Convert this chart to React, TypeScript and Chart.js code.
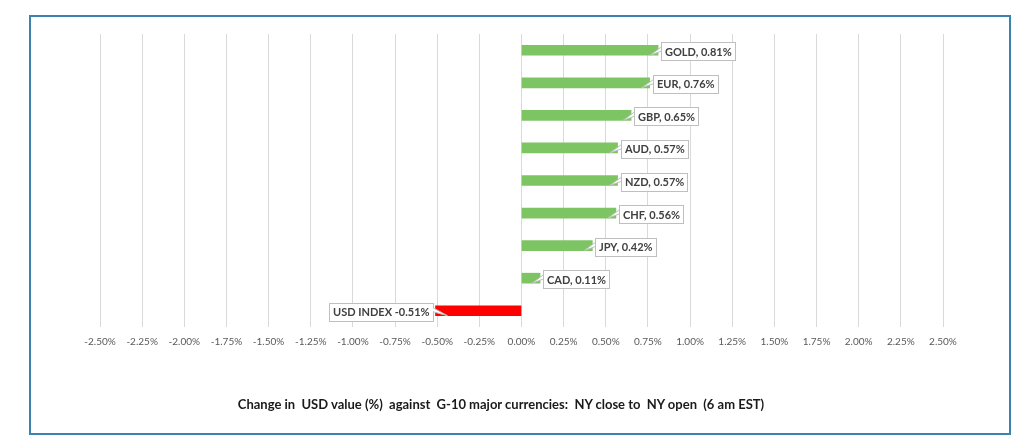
import React, { useEffect, useRef } from "react";
import { Chart, registerables } from "chart.js";

Chart.register(...registerables);

const categories = ["GOLD", "EUR", "GBP", "AUD", "NZD", "CHF", "JPY", "CAD", "USD INDEX"];
const changes = [0.81, 0.76, 0.65, 0.57, 0.57, 0.56, 0.42, 0.11, -0.51];
const barColors = ["#7DC563", "#7DC563", "#7DC563", "#7DC563", "#7DC563", "#7DC563", "#7DC563", "#7DC563", "#FF0000"];
const tickValues = [-2.5, -2.25, -2.0, -1.75, -1.5, -1.25, -1.0, -0.75, -0.5, -0.25, 0, 0.25, 0.5, 0.75, 1.0, 1.25, 1.5, 1.75, 2.0, 2.25, 2.5];
const titleText = "Change in  USD value (%)  against  G-10 major currencies:  NY close to  NY open  (6 am EST)";

const FONT = "Lato, 'Liberation Sans', sans-serif";

function labelText(cat: string, v: number) {
  return cat === "USD INDEX" ? `${cat} ${v.toFixed(2)}%` : `${cat}, ${v.toFixed(2)}%`;
}

const calloutPlugin = {
  id: "callouts",
  afterDatasetsDraw(chart: any) {
    const ctx = chart.ctx;
    const meta = chart.getDatasetMeta(0);
    ctx.save();
    ctx.font = `bold 11px ${FONT}`;
    ctx.textBaseline = "middle";
    meta.data.forEach((bar: any, i: number) => {
      const v = changes[i];
      const txt = labelText(categories[i], v);
      const w = Math.round(ctx.measureText(txt).width + 7);
      const h = 18;
      const cy = bar.y + 1;
      const gap = 3;
      const barEnd = bar.x;
      const barBottom = bar.y + 5;
      let bx: number;
      let tip: [number, number];
      let e1: [number, number];
      let e2: [number, number];
      if (v >= 0) {
        bx = Math.round(barEnd + gap);
        e1 = [bx, cy - 4];
        e2 = [bx, cy];
        tip = [barEnd - 8, barBottom];
      } else {
        bx = Math.round(barEnd - gap - w);
        e1 = [bx + w, cy - 4];
        e2 = [bx + w, cy];
        tip = [barEnd + 12, barBottom];
      }
      const by = Math.round(cy - h / 2);
      ctx.fillStyle = "#FFFFFF";
      ctx.strokeStyle = "#BFBFBF";
      ctx.lineWidth = 1;
      ctx.fillRect(bx + 0.5, by + 0.5, w, h);
      ctx.strokeRect(bx + 0.5, by + 0.5, w, h);
      ctx.beginPath();
      ctx.moveTo(e1[0], e1[1]);
      ctx.lineTo(tip[0], tip[1]);
      ctx.lineTo(e2[0], e2[1]);
      ctx.closePath();
      ctx.fill();
      ctx.beginPath();
      ctx.moveTo(e1[0], e1[1]);
      ctx.lineTo(tip[0], tip[1]);
      ctx.lineTo(e2[0], e2[1]);
      ctx.stroke();
      ctx.fillStyle = "#404040";
      ctx.textAlign = "left";
      ctx.fillText(txt, bx + 4, cy + 1);
    });
    ctx.restore();
  },
};

export default function App() {
  const ref = useRef<HTMLCanvasElement | null>(null);
  useEffect(() => {
    if (!ref.current) return;
    const chart = new Chart(ref.current, {
      type: "bar",
      data: {
        labels: categories,
        datasets: [
          {
            data: changes,
            backgroundColor: barColors,
            borderWidth: 0,
            barThickness: 10,
          },
        ],
      },
      options: {
        indexAxis: "y",
        animation: false,
        responsive: false,
        maintainAspectRatio: false,
        layout: { padding: { left: 100, right: 81, top: 34, bottom: 91 } },
        plugins: {
          legend: { display: false },
          tooltip: { enabled: false },
          title: { display: false },
        },
        scales: {
          x: {
            type: "linear",
            min: -2.5,
            max: 2.5,
            afterBuildTicks(axis: any) {
              axis.ticks = tickValues.map((v) => ({ value: v }));
            },
            grid: { color: "#D9D9D9", drawTicks: false, lineWidth: 1 },
            border: { display: false },
            ticks: {
              padding: 9,
              color: "#595959",
              font: { family: FONT, size: 10 },
              maxRotation: 0,
              autoSkip: false,
              callback: (v: any) => `${Number(v).toFixed(2)}%`,
            },
          },
          y: {
            display: false,
            grid: { display: false },
          },
        },
      },
      plugins: [calloutPlugin],
    });
    return () => chart.destroy();
  }, []);
  return (
    <div style={{ position: "fixed", left: 0, top: 0, width: 1024, height: 448, background: "#FFFFFF" }}>
      <div
        style={{
          position: "absolute",
          left: 29,
          top: 15,
          width: 978,
          height: 416,
          border: "2px solid #3C84AE",
        }}
      />
      <canvas ref={ref} width={1024} height={448} style={{ position: "absolute", left: 0, top: 0 }} />
      <div
        style={{
          position: "absolute",
          left: 0,
          width: 1002,
          top: 396,
          textAlign: "center",
          fontFamily: FONT,
          fontWeight: "bold",
          fontSize: 13,
          color: "#1A1A1A",
          whiteSpace: "pre",
        }}
      >
        {titleText}
      </div>
    </div>
  );
}
